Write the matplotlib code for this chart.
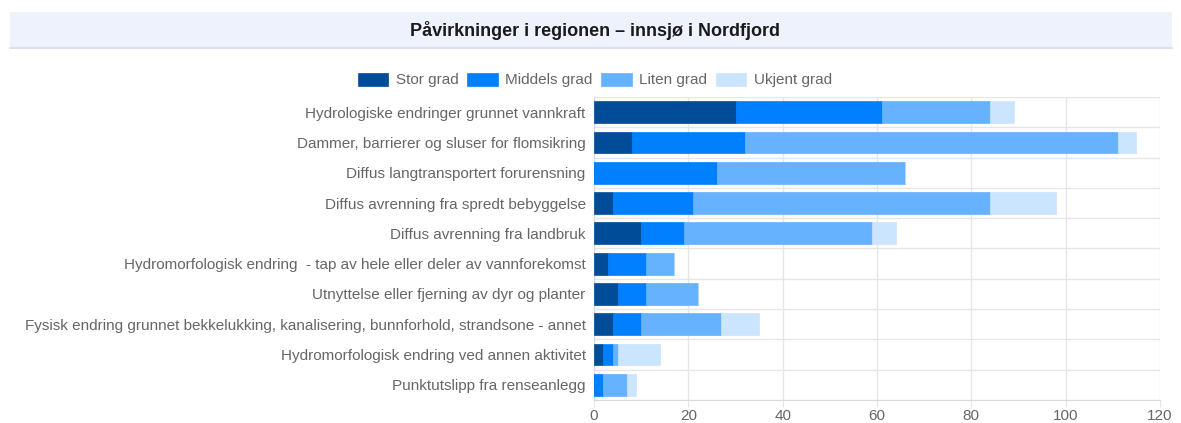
import matplotlib
matplotlib.use("Agg")
import matplotlib.pyplot as plt
from matplotlib.patches import Rectangle
import numpy as np

categories = [
    "Hydrologiske endringer grunnet vannkraft",
    "Dammer, barrierer og sluser for flomsikring",
    "Diffus langtransportert forurensning",
    "Diffus avrenning fra spredt bebyggelse",
    "Diffus avrenning fra landbruk",
    "Hydromorfologisk endring  - tap av hele eller deler av vannforekomst",
    "Utnyttelse eller fjerning av dyr og planter",
    "Fysisk endring grunnet bekkelukking, kanalisering, bunnforhold, strandsone - annet",
    "Hydromorfologisk endring ved annen aktivitet",
    "Punktutslipp fra renseanlegg",
]
series_names = ["Stor grad", "Middels grad", "Liten grad", "Ukjent grad"]
stor = [30, 8, 0, 4, 10, 3, 5, 4, 2, 0]
middels = [31, 24, 26, 17, 9, 8, 6, 6, 2, 2]
liten = [23, 79, 40, 63, 40, 6, 11, 17, 1, 5]
ukjent = [5, 4, 0, 14, 5, 0, 0, 8, 9, 2]
colors = ["#004C99", "#0080FF", "#66B2FF", "#CCE5FF"]
title = "Påvirkninger i regionen – innsjø i Nordfjord"
xticks = [0, 20, 40, 60, 80, 100, 120]

plt.rcParams['font.family'] = ['Liberation Sans', 'DejaVu Sans']

W, H = 1181, 423
fig = plt.figure(figsize=(W / 100, H / 100), dpi=100)

# title band
fig.patches.append(Rectangle((10 / W, 1 - 48 / H), 1162 / W, 36 / H, transform=fig.transFigure,
                             facecolor="#EEF2FC", edgecolor="none", zorder=0))
fig.lines.append(plt.Line2D([10 / W, 1172 / W], [1 - 48.5 / H, 1 - 48.5 / H], transform=fig.transFigure,
                            color="#D5DAE6", lw=1.2))
fig.text(595 / W, 1 - 30 / H, title, ha="center", va="center", fontsize=13,
         fontweight="bold", color="#1A1A1A")

ax = fig.add_axes([594 / W, 1 - 400 / H, 566 / W, 303 / H])
y = np.arange(len(categories))
left = np.zeros(len(categories))
for name, vals, c in zip(series_names, [stor, middels, liten, ukjent], colors):
    ax.barh(y, vals, left=left, height=0.72, color=c, edgecolor=c, linewidth=0.5,
            label=name, zorder=3)
    left = left + np.array(vals)

ax.set_xlim(0, 120)
ax.set_ylim(len(categories) - 0.5, -0.5)
ax.set_xticks(xticks)
ax.set_yticks(y)
ax.set_yticklabels(categories)
ax.set_yticks(np.arange(-0.5, len(categories), 1), minor=True)
ax.grid(axis="x", color="#E6E6E6", lw=1, zorder=0)
ax.grid(axis="y", which="minor", color="#E6E6E6", lw=1, zorder=0)
ax.tick_params(axis="y", which="major", length=0, pad=6, labelsize=11, labelcolor="#666666")
ax.tick_params(axis="y", which="minor", length=0)
ax.tick_params(axis="x", length=5, color="#E6E6E6", pad=1.5, labelsize=11, labelcolor="#666666")
for s in ["top", "right"]:
    ax.spines[s].set_visible(False)
ax.spines["left"].set_color("#D9D9D9")
ax.spines["bottom"].set_color("#D9D9D9")

leg = ax.legend(loc="center", bbox_to_anchor=(595 / W, 1 - 80 / H), bbox_transform=fig.transFigure,
                ncol=4, frameon=False, fontsize=11, handlelength=2.0, handleheight=0.95,
                handletextpad=0.5, columnspacing=0.55, borderaxespad=0)
for t in leg.get_texts():
    t.set_color("#666666")

fig.savefig("out.png", dpi=100)
